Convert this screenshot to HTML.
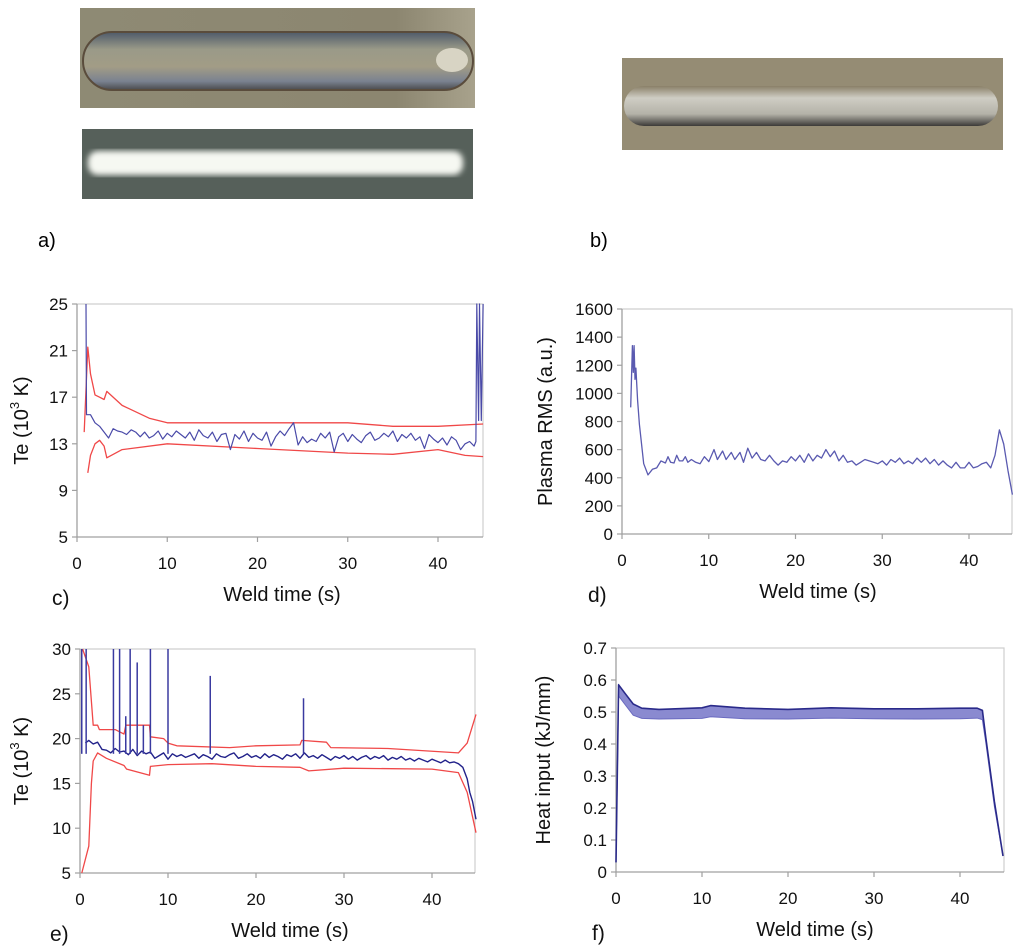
<!DOCTYPE html>
<html><head><meta charset="utf-8"><style>
html,body{margin:0;padding:0;background:#fff;}
svg{display:block;font-family:"Liberation Sans",Arial,sans-serif;}
</style></head><body>
<svg id="fig" width="1024" height="947" viewBox="0 0 1024 947" xmlns="http://www.w3.org/2000/svg">
<defs>
<linearGradient id="plate" x1="0" x2="1" y1="0" y2="0"><stop offset="0" stop-color="#8e8a74"/><stop offset="0.8" stop-color="#8c8670"/><stop offset="1" stop-color="#a8a28c"/></linearGradient>
<linearGradient id="slot" x1="0" x2="0" y1="0" y2="1"><stop offset="0" stop-color="#4e5a6a"/><stop offset="0.3" stop-color="#9a9a88"/><stop offset="0.6" stop-color="#a29c86"/><stop offset="0.85" stop-color="#7a8290"/><stop offset="1" stop-color="#4a4a4c"/></linearGradient>
<linearGradient id="slotb" x1="0" x2="0" y1="0" y2="1"><stop offset="0" stop-color="#8a8068"/><stop offset="0.3" stop-color="#cfcdc4"/><stop offset="0.7" stop-color="#b4b2a8"/><stop offset="1" stop-color="#3c3a38"/></linearGradient>
<filter id="blur"><feGaussianBlur stdDeviation="3"/></filter>
</defs>
<g>
<rect x="80" y="8" width="395" height="100" fill="url(#plate)"/>
<rect x="83" y="32" width="390" height="58" rx="29" fill="url(#slot)" stroke="#5a4c3c" stroke-width="2"/>
<ellipse cx="452" cy="60" rx="16" ry="12" fill="#d8d4c4"/>
<rect x="82" y="129" width="391" height="70" fill="#56605a"/>
<rect x="88" y="151" width="375" height="24" rx="10" fill="#f6f8f2" filter="url(#blur)"/>
</g>
<g>
<rect x="622" y="58" width="381" height="92" fill="#958c74"/>
<rect x="624" y="86" width="374" height="40" rx="20" fill="url(#slotb)"/>
</g>
<text x="38" y="247" font-size="20">a)</text>
<text x="590" y="247" font-size="20">b)</text>
</svg>
<script>
// ---- Chart c data ----
const cBlueX=[1,1.05,1.2];
const cBlueY=[25,15.5,15.5];
const cBlueNoise=[15.5,14.8,14.5,14,13.5,14.3,14.1,14,13.8,14.2,14,13.6,14,13.5,13.7,14.1,13.4,13.9,13.6,14.1,13.8,13.5,14,13.3,14.2,13.7,13.5,14,13.2,13.8,13.9,12.5,13.8,13.4,14.1,13.2,13.9,13.5,13.3,14,12.8,13.6,14.1,13.7,14.3,14.8,12.9,13.6,13.1,13.4,13.2,13.9,13.5,14,12.3,13.6,13.9,13.2,13.8,13.4,13.1,13.7,14,13.3,13.5,13.9,13.6,14.1,13.2,13.8,13.5,13.9,13.3,13.6,12.6,13.8,13.4,13.1,13.5,12.9,13.6,13.3,12.5,13,13.2,12.8];
const cBlueTailX=[44.2,44.3,44.5,44.6,44.8,45];
const cBlueTailY=[13.2,25,15,25,15,25];
const cUpX=[0.8,1.2,1.5,2,2.5,3,3.3,5,8,10,20,30,35,40,45];
const cUpY=[14,21.3,19,17.2,17,16.8,17.5,16.3,15.2,14.8,14.8,14.8,14.5,14.5,14.7];
const cLoX=[1.2,1.5,2,2.5,3,3.3,5,10,20,30,35,40,43,45];
const cLoY=[10.5,12,13,13.3,12.8,11.8,12.5,13,12.6,12.2,12.1,12.5,12,11.9];
const cYTicks=[5,9,13,17,21,25];
const xTicks=[0,10,20,30,40];
// ---- Chart d data ----
const dX=[1,1.2,1.3,1.4,1.5,1.6,1.8,2,2.5,3,3.5,4,4.5,5,5.3,5.6,6,6.3,6.6,7,7.3,7.6,8,8.5,9,9.5,10,10.6,11,11.6,12,12.6,13,13.6,14,14.5,15,15.5,16,16.5,17,17.5,18,18.5,19,19.5,20,20.5,21,21.5,22,22.5,23,23.5,24,24.5,25,25.5,26,26.5,27,27.5,28,28.5,29,29.5,30,30.5,31,31.5,32,32.5,33,33.5,34,34.5,35,35.5,36,36.5,37,37.5,38,38.5,39,39.5,40,40.5,41,41.5,42,42.5,43,43.5,44,44.5,45];
const dY=[900,1340,1150,1340,1100,1180,950,780,500,420,460,470,520,505,550,510,505,560,520,520,550,510,530,510,500,550,515,600,530,590,530,580,530,580,510,610,540,580,530,520,560,520,490,520,510,550,520,560,510,570,520,560,540,600,550,590,520,560,510,520,490,510,530,520,510,500,520,490,530,510,540,500,520,500,540,510,540,500,530,490,520,490,470,510,470,470,510,470,480,500,510,470,560,740,640,450,280,180];
const dYTicks=[0,200,400,600,800,1000,1200,1400,1600];
// ---- Chart e data ----
const eBlueX=[0.6,1,1.5,2,2.5,3,3.5,4,4.5,5,5.5,6,6.5,7,7.5,8,8.5,9,9.5,10,10.5,11,11.5,12,12.5,13,13.5,14,14.5,15,15.5,16,16.5,17,17.5,18,18.5,19,19.5,20,20.5,21,21.5,22,22.5,23,23.5,24,24.5,25,25.5,26,26.5,27,27.5,28,28.5,29,29.5,30,30.5,31,31.5,32,32.5,33,33.5,34,34.5,35,35.5,36,36.5,37,37.5,38,38.5,39,39.5,40,40.5,41,41.5,42,42.5,43,43.5,44,44.3,44.6,45];
const eBlueY=[19.5,19.8,19.4,19.6,18.8,18.7,18.4,18.9,18.5,18.6,18.2,18.8,18.1,18.6,18.3,18.5,17.8,18.1,18.4,17.7,18.3,18,18.2,17.9,18.1,18.3,17.8,18.2,18,17.7,18.3,18,17.9,18.2,18.4,17.8,18,18.3,17.9,18.1,17.8,18.3,17.9,18.2,18,17.7,18.2,18,18.3,17.8,18.4,17.9,18.1,17.8,18.2,17.9,17.6,18,17.8,18.1,17.7,18,17.6,17.9,18.1,17.7,18,17.8,18.1,17.6,17.9,17.7,18,17.6,17.8,17.5,17.8,17.6,17.4,17.7,17.5,17.3,17.6,17.3,17.4,17.2,16.8,15.5,14,13,11];
const eSpikeX=[0.2,0.7,3.8,4.5,5.2,5.7,6.5,7.2,8,10,14.8,25.4];
const eSpikeY=[30,30,30,30,22.5,30,28.5,21.5,30,30,27,24.5];
const eUpX=[0.3,1,1.5,2,2.2,4,5,5.2,7.9,8,9.5,10,11,17,20,25,25.2,28,28.5,35,43,44,45];
const eUpY=[30,28,21.5,21.5,21,21,20.5,21.5,21.5,20.2,20,19.5,19.2,19,19.2,19.3,19.8,19.6,19,18.9,18.4,19.5,22.7];
const eLoX=[0.2,1,1.3,1.5,2,3,5,5.3,7.9,8,10,15,20,25,26,30,40,43,44,45];
const eLoY=[5,8,15,17.5,18.4,17.8,17,16.6,15.9,16.9,17.1,17.2,16.9,16.8,16.4,16.7,16.6,16.2,14,9.5];
const eYTicks=[5,10,15,20,25,30];
// ---- Chart f data ----
const fX=[0,0.3,1,2,3,5,10,11,15,20,25,30,35,40,42,42.6,43,44,45];
const fUpper=[0.03,0.585,0.56,0.525,0.512,0.508,0.513,0.52,0.512,0.508,0.513,0.51,0.51,0.512,0.512,0.505,0.42,0.22,0.05];
const fLower=[0.03,0.55,0.525,0.49,0.48,0.478,0.48,0.485,0.479,0.478,0.481,0.479,0.478,0.479,0.481,0.476,0.405,0.205,0.05];
const fYTicks=[0,0.1,0.2,0.3,0.4,0.5,0.6,0.7];

const NS="http://www.w3.org/2000/svg";
const svg=document.getElementById('fig');
function el(tag,attrs,parent){const e=document.createElementNS(NS,tag);for(const k in attrs)e.setAttribute(k,attrs[k]);(parent||svg).appendChild(e);return e;}

function makeChart(o){
  const g=el('g',{});
  
  
  const sx=v=>o.x0+(v-0)*(o.x40-o.x0)/40;
  const sy=v=>o.yb+(v-o.ymin)*(o.yt-o.yb)/(o.ymax-o.ymin);
  o.sx=sx;o.sy=sy;
  const fr=el('path',{d:`M${sx(0)},${o.yt}H${o.xr}V${o.yb}`,fill:'none',stroke:'#cfcfcf','stroke-width':1.2},g);
  
  
  const ax=el('path',{d:`M${sx(0)},${o.yt}V${o.yb}H${o.xr}`,fill:'none',stroke:'#a0a0a0','stroke-width':1.3},g);
  
  
  o.yTicks.forEach(v=>{
    el('line',{x1:sx(0)-5,x2:sx(0),y1:sy(v),y2:sy(v),stroke:'#a0a0a0','stroke-width':1.2},g);
    const t=el('text',{x:sx(0)-9,y:sy(v)+6,'font-size':17,'text-anchor':'end',fill:'#111'},g);
    t.textContent=o.fmt?o.fmt(v):v;
    
    
  });
  xTicks.forEach(v=>{
    el('line',{x1:sx(v),x2:sx(v),y1:o.yb,y2:o.yb+5,stroke:'#a0a0a0','stroke-width':1.2},g);
    const t=el('text',{x:sx(v),y:o.yb+32,'font-size':17,'text-anchor':'middle',fill:'#111'},g);
    t.textContent=v;
    
    
  });
  const xt=el('text',{x:o.xtx,y:o.yb+64,'font-size':20,'text-anchor':'middle',fill:'#111'},g);
  xt.textContent='Weld time (s)';
  
  
  const pl=el('text',{x:o.plx,y:o.yb+68,'font-size':21,fill:'#111'},g);
  pl.textContent=o.panel;
  
  
  const yt=el('text',{x:0,y:0,'font-size':20,'text-anchor':'middle',fill:'#111',transform:`translate(${o.ytx},${(o.yt+o.yb)/2}) rotate(-90)`},g);
  
  
  if(o.te){
    yt.appendChild(document.createTextNode('Te (10'));
    const s=el('tspan',{'font-size':13,dy:-9},yt);s.textContent='3';
    const s2=el('tspan',{dy:9},yt);s2.textContent=' K)';
  } else yt.textContent=o.ytitle;
  o.g=g;
  return o;
}
function line(o,xs,ys,color,w,name){
  const d=xs.map((x,i)=>(i?'L':'M')+o.sx(x).toFixed(1)+','+o.sy(ys[i]).toFixed(1)).join('');
  const p=el('path',{d,fill:'none',stroke:color,'stroke-width':w,'stroke-linejoin':'round'},o.g);
  
  
  return p;
}

const C=makeChart({name:'chart-c',x0:77,x40:438,xr:483,yt:304,yb:537,ymin:5,ymax:25,yTicks:cYTicks,te:true,ytx:28,xtx:282,plx:52,panel:'c)'});
line(C,cUpX,cUpY,'#f04848',1.3,'upper-bound-line');
line(C,cLoX,cLoY,'#f04848',1.3,'lower-bound-line');
const cX=cBlueX.concat(cBlueNoise.map((v,i)=>1.5+i*0.5)).concat(cBlueTailX);
const cY=cBlueY.concat(cBlueNoise).concat(cBlueTailY);
line(C,cX,cY,'#4a4aa8',1.2,'te-line');

const D=makeChart({name:'chart-d',x0:622,x40:969,xr:1012,yt:309,yb:534,ymin:0,ymax:1600,yTicks:dYTicks,ytitle:'Plasma RMS (a.u.)',ytx:552,xtx:818,plx:588,panel:'d)'});
line(D,dX,dY,'#5a5ab0',1.3,'plasma-rms-line');

const E=makeChart({name:'chart-e',x0:80,x40:432,xr:475,yt:649,yb:873,ymin:5,ymax:30,yTicks:eYTicks,te:true,ytx:28,xtx:290,plx:50,panel:'e)'});
line(E,eUpX,eUpY,'#f04848',1.3,'upper-bound-line');
line(E,eLoX,eLoY,'#f04848',1.3,'lower-bound-line');
line(E,eBlueX,eBlueY,'#22228a',1.4,'te-line');
eSpikeX.forEach((x,i)=>{
  const sp=el('line',{x1:E.sx(x),x2:E.sx(x),y1:E.sy(18.3),y2:E.sy(eSpikeY[i]),stroke:'#3a3aa0','stroke-width':1.5},E.g);
  
  
});

const F=makeChart({name:'chart-f',x0:616,x40:960,xr:1004,yt:648,yb:872,ymin:0,ymax:0.7,yTicks:fYTicks,fmt:v=>v===0?'0':v.toFixed(1),ytitle:'Heat input (kJ/mm)',ytx:550,xtx:815,plx:592,panel:'f)'});
const bandD=fX.map((x,i)=>(i?'L':'M')+F.sx(x)+','+F.sy(fUpper[i])).join('')+fX.slice().reverse().map((x,j)=>{const i=fX.length-1-j;return 'L'+F.sx(x)+','+F.sy(fLower[i]);}).join('')+'Z';
const band=el('path',{d:bandD,fill:'#8a8ad0',stroke:'#6a6ac0','stroke-width':1},F.g);


line(F,fX,fUpper,'#2a2a8a',1.6,'heat-input-line');
</script>
</body></html>
